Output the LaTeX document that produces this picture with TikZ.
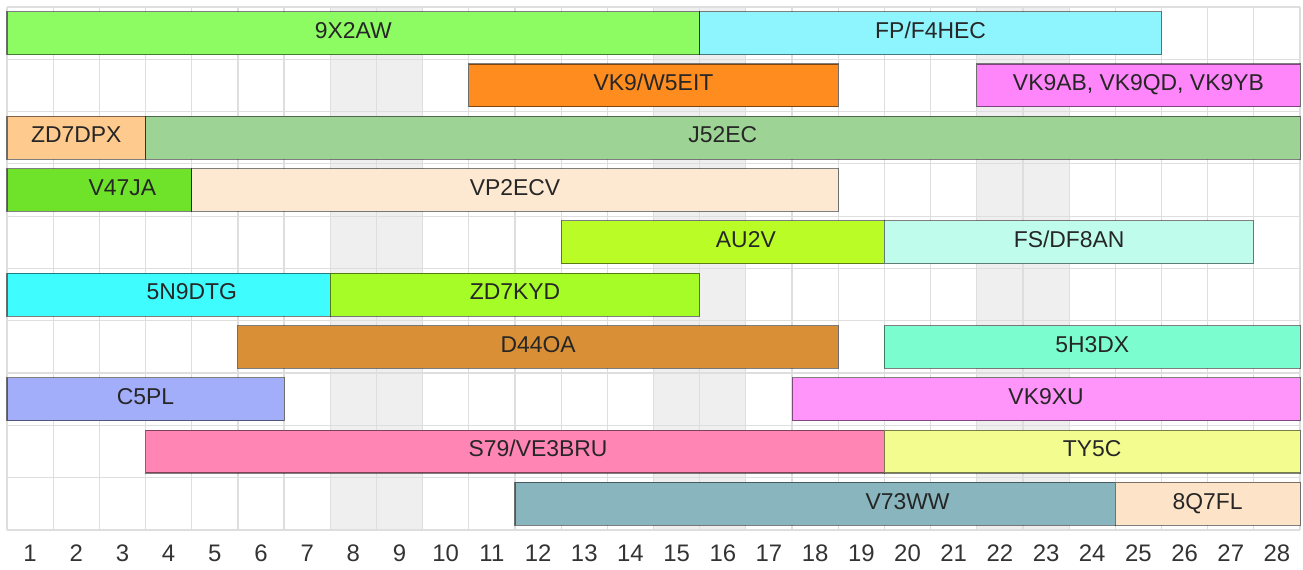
\documentclass[tikz,border=0pt]{standalone}
\usepackage{fontspec}
\setmainfont{Liberation Sans}

\definecolor{weekend}{HTML}{EFEFEF}
\definecolor{gridgray}{HTML}{DEDEDE}
\definecolor{c9XAW}{HTML}{8CFC62}
\definecolor{cFPF}{HTML}{8EF4FD}
\definecolor{cVKW}{HTML}{FF8C1F}
\definecolor{cVKAB}{HTML}{FF85FA}
\definecolor{cZDDPX}{HTML}{FFCA8E}
\definecolor{cJEC}{HTML}{9DD394}
\definecolor{cVJA}{HTML}{6EE32A}
\definecolor{cVPECV}{HTML}{FDE8D2}
\definecolor{cAUV}{HTML}{B9FC26}
\definecolor{cFSDF}{HTML}{C0FCEB}
\definecolor{cNDTG}{HTML}{3FFCFF}
\definecolor{cZDKYD}{HTML}{A6FC26}
\definecolor{cDOA}{HTML}{D98F35}
\definecolor{cHDX}{HTML}{7CFDCF}
\definecolor{cCPL}{HTML}{A3AEFB}
\definecolor{cVKXU}{HTML}{FF94FA}
\definecolor{cSVE}{HTML}{FF85B4}
\definecolor{cTYC}{HTML}{F3FC8E}
\definecolor{cVWW}{HTML}{89B6BE}
\definecolor{cQFL}{HTML}{FDE3C8}

\begin{document}
\begin{tikzpicture}[x=46.18bp,y=52.3bp,
  slot/.style={draw=black,draw opacity=0.5,line width=1.1bp},
  call/.style={anchor=base,inner sep=0pt,text=black!85,font=\fontsize{23}{23}\selectfont},
  daynum/.style={anchor=base,inner sep=0pt,text=black!80,font=\fontsize{24}{24}\selectfont}]

\useasboundingbox (-7bp,-40bp) rectangle (1296bp,530bp);

\fill[weekend] (7,0) rectangle (9,10);
\fill[weekend] (14,0) rectangle (16,10);
\fill[weekend] (21,0) rectangle (23,10);
\draw[gridgray,line width=1.2bp,xstep=46.18bp,ystep=52.3bp] (0,0) grid (28,10);

\foreach \d in {1,...,28}
  \node[daynum] (day\d) at (\d-0.5,-0.61) {\d};

% row 1
\draw[slot,fill=c9XAW] (0,9.09) rectangle (15,9.91);
\draw[slot,fill=cFPF] (15,9.09) rectangle (25,9.91);
\node[call] (n9x2aw) at (7.5,9.4) {9X2AW};
\node[call] (fpf4hec) at (20,9.4) {FP/F4HEC};

% row 2
\draw[slot,fill=cVKW] (10,8.09) rectangle (18,8.91);
\draw[slot,fill=cVKAB] (21,8.09) rectangle (28,8.91);
\node[call] (vk9w5eit) at (14,8.4) {VK9/W5EIT};
\node[call] (vk9ab) at (24.5,8.4) {VK9AB, VK9QD, VK9YB};

% row 3
\draw[slot,fill=cZDDPX] (0,7.09) rectangle (3,7.91);
\draw[slot,fill=cJEC] (3,7.09) rectangle (28,7.91);
\node[call] (zd7dpx) at (1.5,7.4) {ZD7DPX};
\node[call] (j52ec) at (15.5,7.4) {J52EC};

% row 4
\draw[slot,fill=cVJA] (0,6.09) rectangle (4,6.91);
\draw[slot,fill=cVPECV] (4,6.09) rectangle (18,6.91);
\node[call] (v47ja) at (2.5,6.4) {V47JA};
\node[call] (vp2ecv) at (11,6.4) {VP2ECV};

% row 5
\draw[slot,fill=cAUV] (12,5.09) rectangle (19,5.91);
\draw[slot,fill=cFSDF] (19,5.09) rectangle (27,5.91);
\node[call] (au2v) at (16,5.4) {AU2V};
\node[call] (fsdf8an) at (23,5.4) {FS/DF8AN};

% row 6
\draw[slot,fill=cNDTG] (0,4.09) rectangle (7,4.91);
\draw[slot,fill=cZDKYD] (7,4.09) rectangle (15,4.91);
\node[call] (n5n9dtg) at (4,4.4) {5N9DTG};
\node[call] (zd7kyd) at (11,4.4) {ZD7KYD};

% row 7
\draw[slot,fill=cDOA] (5,3.09) rectangle (18,3.91);
\draw[slot,fill=cHDX] (19,3.09) rectangle (28,3.91);
\node[call] (d44oa) at (11.5,3.4) {D44OA};
\node[call] (n5h3dx) at (23.5,3.4) {5H3DX};

% row 8
\draw[slot,fill=cCPL] (0,2.09) rectangle (6,2.91);
\draw[slot,fill=cVKXU] (17,2.09) rectangle (28,2.91);
\node[call] (c5pl) at (3,2.4) {C5PL};
\node[call] (vk9xu) at (22.5,2.4) {VK9XU};

% row 9
\draw[slot,fill=cSVE] (3,1.09) rectangle (19,1.91);
\draw[slot,fill=cTYC] (19,1.09) rectangle (28,1.91);
\node[call] (s79ve3bru) at (11.5,1.4) {S79/VE3BRU};
\node[call] (ty5c) at (23.5,1.4) {TY5C};

% row 10
\draw[slot,fill=cVWW] (11,0.09) rectangle (24,0.91);
\draw[slot,fill=cQFL] (24,0.09) rectangle (28,0.91);
\node[call] (v73ww) at (19.5,0.4) {V73WW};
\node[call] (n8q7fl) at (26,0.4) {8Q7FL};

\end{tikzpicture}
\end{document}
